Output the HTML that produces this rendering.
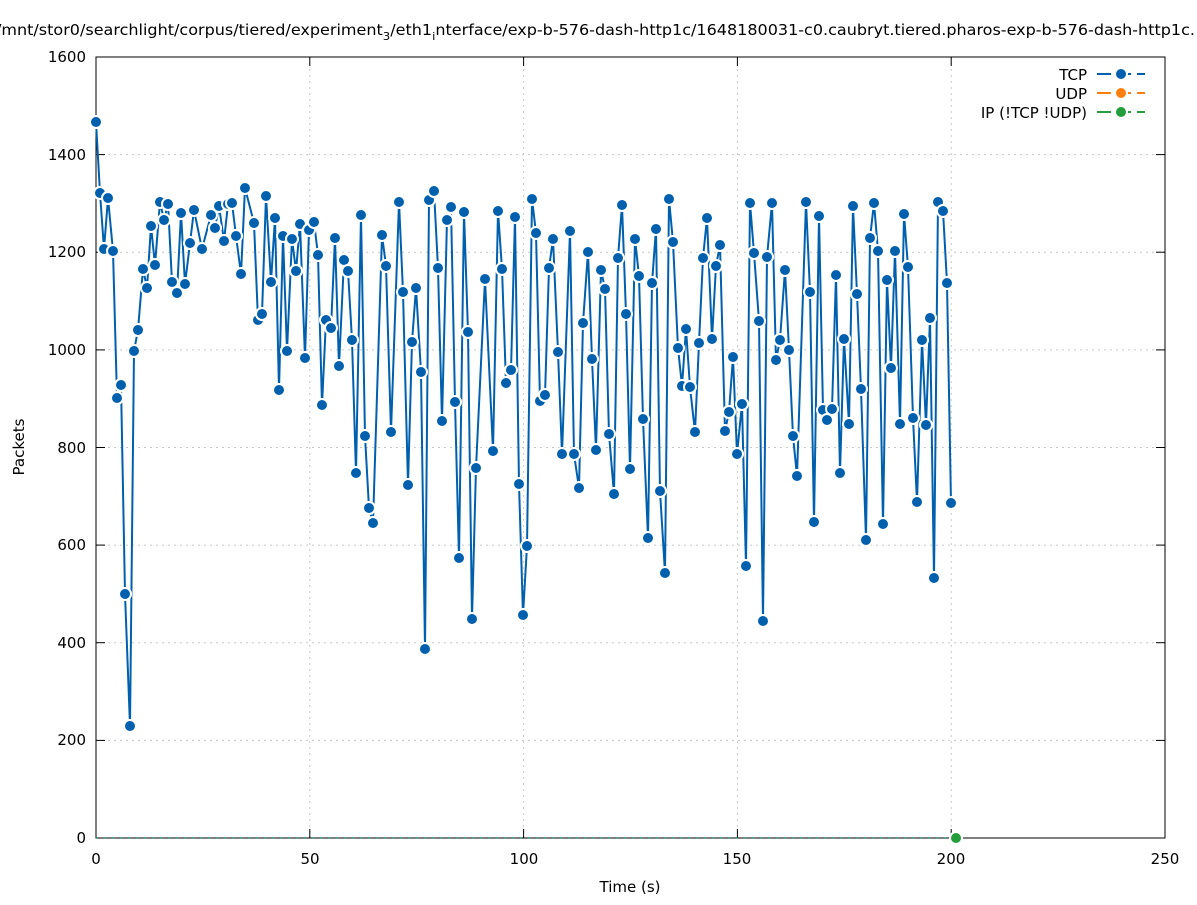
<!DOCTYPE html>
<html><head><meta charset="utf-8"><style>
body{margin:0;background:#fff}
text{font-family:"DejaVu Sans","Liberation Sans",sans-serif;font-size:15px;fill:#000}
</style></head><body>
<svg id="s" width="1197" height="900" xmlns="http://www.w3.org/2000/svg">
<rect width="1197" height="900" fill="#fff"/>
<g stroke="#c8c8c8" stroke-width="1" stroke-dasharray="2,4">
<line x1="96" y1="740.4" x2="1165" y2="740.4"/><line x1="96" y1="642.7" x2="1165" y2="642.7"/>
<line x1="96" y1="545.1" x2="1165" y2="545.1"/><line x1="96" y1="447.5" x2="1165" y2="447.5"/>
<line x1="96" y1="349.9" x2="1165" y2="349.9"/><line x1="96" y1="252.2" x2="1165" y2="252.2"/>
<line x1="96" y1="154.6" x2="1165" y2="154.6"/>
<line x1="309.8" y1="57" x2="309.8" y2="838"/><line x1="523.6" y1="57" x2="523.6" y2="838"/>
<line x1="737.4" y1="57" x2="737.4" y2="838"/><line x1="951.2" y1="57" x2="951.2" y2="838"/>
</g>
<rect x="96" y="57" width="1069" height="781" fill="none" stroke="#000" stroke-width="1"/>
<g stroke="#000" stroke-width="1" id="ticks"></g>
<g text-anchor="end">
<text x="86" y="843">0</text><text x="86" y="745">200</text><text x="86" y="648">400</text>
<text x="86" y="550">600</text><text x="86" y="453">800</text><text x="86" y="355">1000</text>
<text x="86" y="257">1200</text><text x="86" y="160">1400</text><text x="86" y="62">1600</text>
</g>
<g text-anchor="middle">
<text x="96" y="864">0</text><text x="310" y="864">50</text><text x="524" y="864">100</text>
<text x="737" y="864">150</text><text x="951" y="864">200</text><text x="1165" y="864">250</text>
<text x="630" y="892">Time (s)</text>
</g>
<text x="-4" y="35" textLength="1199" lengthAdjust="spacingAndGlyphs">/mnt/stor0/searchlight/corpus/tiered/experiment<tspan font-size="11" dy="5">3</tspan><tspan dy="-5">/eth1</tspan><tspan font-size="11" dy="5">i</tspan><tspan dy="-5">nterface/exp-b-576-dash-http1c/1648180031-c0.caubryt.tiered.pharos-exp-b-576-dash-http1c.</tspan></text>
<text x="24" y="447" text-anchor="middle" transform="rotate(-90 24 447)">Packets</text>
<line x1="96" y1="838" x2="956" y2="838" stroke="#009e73" stroke-width="1.5" stroke-dasharray="2,6" opacity="0.7"/>
<g id="data"></g>
<circle cx="956" cy="838" r="6" fill="#229e3a" stroke="#fff" stroke-width="2"/>
<g text-anchor="end">
<text x="1087" y="80">TCP</text><text x="1087" y="99">UDP</text><text x="1087" y="118">IP (!TCP  !UDP)</text>
</g>
<line x1="1097" y1="74" x2="1145" y2="74" stroke="#0060ad" stroke-width="2" stroke-dasharray="14,6"/>
<circle cx="1121" cy="74" r="6" fill="#0060ad" stroke="#fff" stroke-width="2"/>
<line x1="1097" y1="93" x2="1145" y2="93" stroke="#ff7f0e" stroke-width="2" stroke-dasharray="14,6"/>
<circle cx="1121" cy="93" r="6" fill="#ff7f0e" stroke="#fff" stroke-width="2"/>
<line x1="1097" y1="112" x2="1145" y2="112" stroke="#229e3a" stroke-width="2" stroke-dasharray="14,6"/>
<circle cx="1121" cy="112" r="6" fill="#229e3a" stroke="#fff" stroke-width="2"/>
</svg>
<script>
var p=[[96,122],[100,193],[104,249],[108,198],[113,251],[117,398],[121,385],[125,594],[130,726],[134,351],[138,330],[143,269],[147,288],[151,226],[155,265],[160,202],[164,220],[168,204],[172,282],[177,293],[181,213],[185,284],[190,243],[194,210],[202,249],[211,215],[215,228],[219,206],[224,241],[228,204],[232,203],[236,236],[241,274],[245,188],[254,223],[258,320],[262,314],[266,196],[271,282],[275,218],[279,390],[283,236],[287,351],[292,239],[296,271],[300,224],[305,358],[309,230],[314,222],[318,255],[322,405],[326,320],[331,328],[335,238],[339,366],[344,260],[348,271],[352,340],[356,473],[361,215],[365,436],[369,508],[373,523],[382,235],[386,266],[391,432],[399,202],[403,292],[408,485],[412,342],[416,288],[421,372],[425,649],[429,200],[434,191],[438,268],[442,421],[447,220],[451,207],[455,402],[459,558],[464,212],[468,332],[472,619],[476,468],[485,279],[493,451],[498,211],[502,269],[506,383],[511,370],[515,217],[519,484],[523,615],[527,546],[532,199],[536,233],[540,401],[545,395],[549,268],[553,239],[558,352],[562,454],[570,231],[574,454],[579,488],[583,323],[588,252],[592,359],[596,450],[601,270],[605,289],[609,434],[614,494],[618,258],[622,205],[626,314],[630,469],[635,239],[639,276],[643,419],[648,538],[652,283],[656,229],[660,491],[665,573],[669,199],[673,242],[678,348],[682,386],[686,329],[690,387],[695,432],[699,343],[703,258],[707,218],[712,339],[716,266],[720,245],[725,431],[729,412],[733,357],[737,454],[742,404],[746,566],[750,203],[754,253],[759,321],[763,621],[767,257],[772,203],[776,360],[780,340],[785,270],[789,350],[793,436],[797,476],[806,202],[810,292],[814,522],[819,216],[823,410],[827,420],[832,409],[836,275],[840,473],[844,339],[849,424],[853,206],[857,294],[861,389],[866,540],[870,238],[874,203],[878,251],[883,524],[887,280],[891,368],[895,251],[900,424],[904,214],[908,267],[913,418],[917,502],[922,340],[926,425],[930,318],[934,578],[938,202],[943,211],[947,283],[951,503]];
var ns="http://www.w3.org/2000/svg",g=document.getElementById("data");
var pl=document.createElementNS(ns,"polyline");
pl.setAttribute("points",p.map(function(a){return a.join(",")}).join(" "));
pl.setAttribute("fill","none");pl.setAttribute("stroke","#0060ad");pl.setAttribute("stroke-width","2");
g.appendChild(pl);
p.forEach(function(a){var c=document.createElementNS(ns,"circle");c.setAttribute("cx",a[0]);c.setAttribute("cy",a[1]);c.setAttribute("r","6");c.setAttribute("fill","#0060ad");c.setAttribute("stroke","#fff");c.setAttribute("stroke-width","2");g.appendChild(c);});
var t=document.getElementById("ticks"),s="";
[838,740.4,642.7,545.1,447.5,349.9,252.2,154.6,57].forEach(function(y){s+='<line x1="96" y1="'+y+'" x2="105" y2="'+y+'"/><line x1="1156" y1="'+y+'" x2="1165" y2="'+y+'"/>';});
[96,309.8,523.6,737.4,951.2,1165].forEach(function(x){s+='<line x1="'+x+'" y1="838" x2="'+x+'" y2="829"/><line x1="'+x+'" y1="57" x2="'+x+'" y2="66"/>';});
t.innerHTML=s;
</script>
</body></html>
